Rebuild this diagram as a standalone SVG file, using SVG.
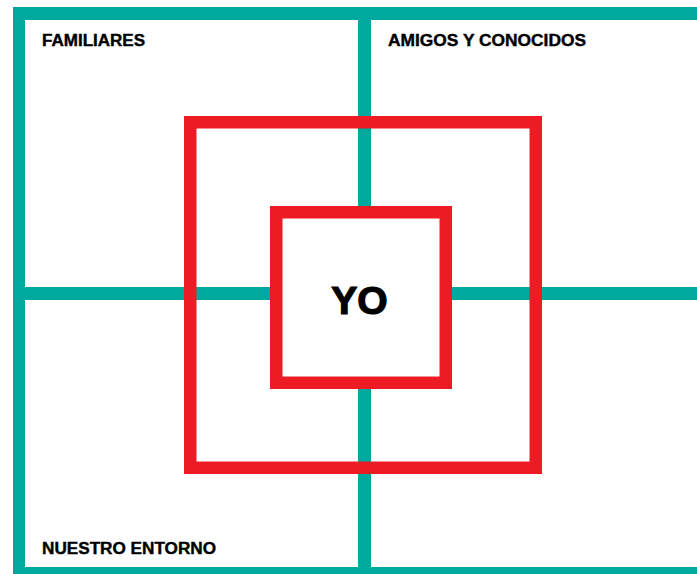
<svg xmlns="http://www.w3.org/2000/svg" width="697" height="574" viewBox="0 0 697 574">
  <style>
    .teal { fill: #00A99D; }
    .red { fill: none; stroke: #ED1C24; stroke-width: 12.5; }
    .lbl { font-family: "Liberation Sans", Arial, sans-serif; font-weight: bold; font-size: 16px; fill: #000; stroke: #000; stroke-width: 0.4; }
    .yo { font-family: "Liberation Sans", Arial, sans-serif; font-weight: bold; font-size: 39px; fill: #000; stroke: #000; stroke-width: 1.2; }
  </style>
  <rect width="697" height="574" fill="#fff"/>
  <g id="grid">
    <rect class="teal" x="13" y="7" width="684" height="13"/>
    <rect class="teal" x="13" y="7" width="12" height="567"/>
    <rect class="teal" x="13" y="567" width="684" height="7"/>
    <rect class="teal" x="358" y="7" width="13" height="567"/>
    <rect class="teal" x="13" y="287" width="684" height="13"/>
  </g>
  <g id="outer-square">
    <rect class="red" x="190.25" y="122.25" width="345.5" height="345.5"/>
  </g>
  <g id="yo">
    <rect class="red" x="276.25" y="212.25" width="169.5" height="170.5" style="fill:#fff"/>
    <text class="yo" x="359.5" y="314" text-anchor="middle">YO</text>
  </g>
  <g id="familiares"><text class="lbl" x="42" y="46" textLength="103" lengthAdjust="spacingAndGlyphs">FAMILIARES</text></g>
  <g id="amigos"><text class="lbl" x="388" y="46" textLength="198" lengthAdjust="spacingAndGlyphs">AMIGOS Y CONOCIDOS</text></g>
  <g id="entorno"><text class="lbl" x="42" y="554" textLength="174" lengthAdjust="spacingAndGlyphs">NUESTRO ENTORNO</text></g>
</svg>
